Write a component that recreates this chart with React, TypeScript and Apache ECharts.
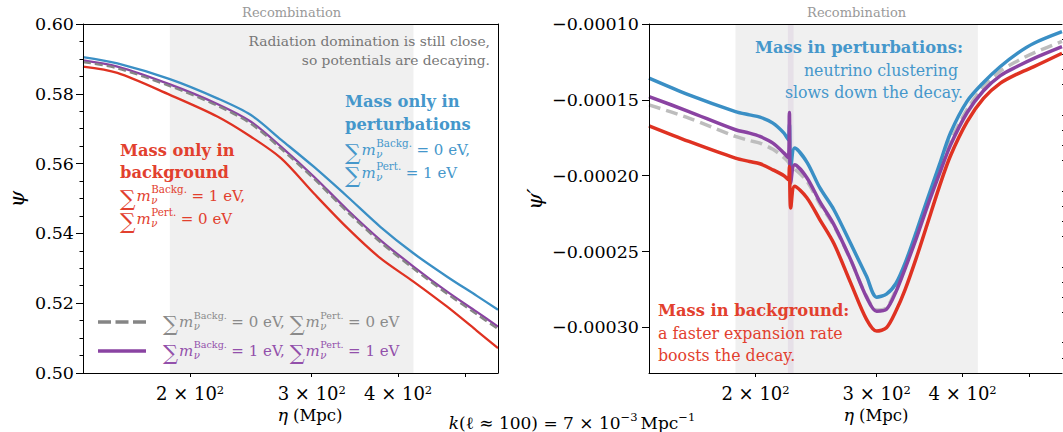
import React, { useEffect, useRef } from "react";
import * as echarts from "echarts";

// ---------------- data ----------------
// conformal time eta (Mpc), left panel: potential psi
const etaLeft = [140, 157, 187, 219, 245, 271, 302, 338, 377, 421, 471, 520, 558];
const psiNoMass = [0.5891, 0.5873, 0.5822, 0.5766, 0.5714, 0.5642, 0.5557, 0.5461, 0.5375, 0.5299, 0.5227, 0.5168, 0.5126];
const psiBothMass = [0.5896, 0.5878, 0.5827, 0.5771, 0.572, 0.5648, 0.5563, 0.5467, 0.5381, 0.5305, 0.5233, 0.5175, 0.5133];
const psiPertMass = [0.5905, 0.5887, 0.5842, 0.5787, 0.5739, 0.5668, 0.5591, 0.5505, 0.5419, 0.5343, 0.5276, 0.5221, 0.5181];
const psiBackgMass = [0.5878, 0.586, 0.5797, 0.5735, 0.5677, 0.5615, 0.5515, 0.5415, 0.5329, 0.5262, 0.519, 0.5121, 0.5071];

// right panel: psi' (derivative)
const etaRight = [140, 160, 187, 196, 203, 212, 220, 223.3, 224.0, 225.0, 228, 237.5, 248, 260, 275, 290, 300, 310, 320, 330, 343, 355, 370, 384, 406, 429, 454, 480, 508, 558];
const dpsiNoMass = [-1.533e-4, -1.62e-4, -1.741e-4, -1.768e-4, -1.785e-4, -1.826e-4, -1.88e-4, -1.91e-4, -1.925e-4, -1.935e-4, -1.955e-4, -2.035e-4, -2.185e-4, -2.33e-4, -2.555e-4, -2.795e-4, -2.885e-4, -2.87e-4, -2.75e-4, -2.595e-4, -2.385e-4, -2.19e-4, -1.965e-4, -1.775e-4, -1.565e-4, -1.415e-4, -1.31e-4, -1.245e-4, -1.19e-4, -1.115e-4];
const dpsiBothMass = [-1.478e-4, -1.577e-4, -1.697e-4, -1.719e-4, -1.741e-4, -1.785e-4, -1.851e-4, -1.882e-4, -1.584e-4, -2.048e-4, -1.928e-4, -2.013e-4, -2.171e-4, -2.322e-4, -2.553e-4, -2.8e-4, -2.893e-4, -2.88e-4, -2.765e-4, -2.612e-4, -2.406e-4, -2.21e-4, -1.99e-4, -1.8e-4, -1.585e-4, -1.44e-4, -1.34e-4, -1.28e-4, -1.226e-4, -1.149e-4];
const dpsiPertMass = [-1.357e-4, -1.467e-4, -1.577e-4, -1.599e-4, -1.614e-4, -1.653e-4, -1.719e-4, -1.763e-4, -1.66e-4, -1.95e-4, -1.818e-4, -1.91e-4, -2.079e-4, -2.224e-4, -2.447e-4, -2.663e-4, -2.8e-4, -2.78e-4, -2.71e-4, -2.576e-4, -2.363e-4, -2.163e-4, -1.93e-4, -1.72e-4, -1.51e-4, -1.385e-4, -1.28e-4, -1.195e-4, -1.127e-4, -1.051e-4];
const dpsiBackgMass = [-1.671e-4, -1.774e-4, -1.884e-4, -1.906e-4, -1.921e-4, -1.961e-4, -2.0e-4, -2.026e-4, -1.939e-4, -2.213e-4, -2.07e-4, -2.145e-4, -2.289e-4, -2.447e-4, -2.706e-4, -2.947e-4, -3.024e-4, -3.002e-4, -2.892e-4, -2.751e-4, -2.535e-4, -2.326e-4, -2.073e-4, -1.87e-4, -1.645e-4, -1.49e-4, -1.39e-4, -1.33e-4, -1.281e-4, -1.193e-4];

const etaRange = [140, 558];
const recombination = [187, 421];
const glitchBand = [222.9, 227.1];
const xTickValues = [200, 300, 400, 500];
const xLabelValues = [200, 300, 400];
const yLeftRange = [0.5, 0.6];
const yLeftStep = 0.02;
const yRightRange = [-3.3e-4, -1.0e-4];
const yRightTicks = [-3.0e-4, -2.5e-4, -2.0e-4, -1.5e-4, -1.0e-4];

// ---------------- styling ----------------
const FONT = '"DejaVu Serif", serif';
const C_BLUE = "#3a8fc5";
const C_RED = "#df3222";
const C_PURPLE = "#8a43a2";
const C_GRAY = "#858585";
const C_GRAY_R = "#bdbdbd";
const T_BLUE = "#4597cb";
const T_RED = "#e2402e";
const T_PURPLE = "#9350ab";
const T_GRAY = "#8a8a8a";

type Piece = { t?: string; s?: number; it?: boolean; b?: boolean; dy?: number; gap?: number; stack?: Piece[] };

let measureCtx: CanvasRenderingContext2D | null = null;
function fontOf(p: Piece) {
  return `${p.it ? "italic " : ""}${p.b ? "bold " : ""}${p.s}px ${FONT}`;
}
function measure(p: Piece) {
  if (!measureCtx) measureCtx = document.createElement("canvas").getContext("2d");
  measureCtx!.font = fontOf(p);
  return measureCtx!.measureText(p.t ?? "").width;
}
function mathLine(x: number, y: number, fill: string, pieces: Piece[], align = "left"): any[] {
  const widths = pieces.map((p) => (p.stack ? Math.max(...p.stack.map(measure)) : measure(p)) + (p.gap ?? 0));
  const total = widths.reduce((a, b) => a + b, 0);
  let cx = align === "right" ? x - total : align === "center" ? x - total / 2 : x;
  const out: any[] = [];
  pieces.forEach((p, i) => {
    for (const q of p.stack ?? [p]) {
      out.push({
        type: "text",
        x: cx,
        y: y + (q.dy ?? 0),
        silent: true,
        z: 100,
        style: { text: q.t, font: fontOf(q), fill, textAlign: "left", textVerticalAlign: "middle" },
      });
    }
    cx += widths[i];
  });
  return out;
}
// sum_m_nu^label = rhs ; big: size factor of the summation sign
function sumTerm(label: string, rhs: string, s = 15, big = 1.4, supF = 0.64): Piece[] {
  return [
    { t: "∑", s: s * big, dy: s * (big - 1) * 0.3, gap: 1 },
    { t: "m", s, it: true, gap: 0.5 },
    { stack: [{ t: label, s: s * supF, dy: -s * 0.44 }, { t: "ν", s: s * 0.68, it: true, dy: s * 0.3 }], gap: s * 0.3 },
    { t: "= " + rhs, s },
  ];
}
const noteTerm = (label: string, rhs: string) => sumTerm(label, rhs, 15, 1.45, 0.69);
const txt = (t: string, s: number): Piece[] => [{ t, s }];
const bold = (t: string, s = 16.3): Piece[] => [{ t, s, b: true }];

function line(name: string, xi: number, yi: number, xs: number[], ys: number[], color: string, width: number, z: number, dash?: number[]) {
  return {
    type: "line",
    name,
    xAxisIndex: xi,
    yAxisIndex: yi,
    data: xs.map((x, i) => [x, ys[i]]),
    showSymbol: false,
    symbol: "none",
    smooth: 0.3,
    silent: true,
    z,
    lineStyle: { color, width, type: dash ?? "solid", cap: "butt" },
  };
}

function bandSeries(xi: number, yi: number, withGlitch: boolean) {
  const data: any[] = [
    [
      {
        xAxis: recombination[0],
        itemStyle: { color: "#f0f0f0" },
        label: { show: true, position: "top", formatter: "Recombination", color: "#999", fontFamily: FONT, fontSize: 13, distance: 5 },
      },
      { xAxis: recombination[1] },
    ],
  ];
  if (withGlitch) {
    data.push([{ xAxis: glitchBand[0], itemStyle: { color: "rgba(138,69,160,0.09)" }, label: { show: false } }, { xAxis: glitchBand[1] }]);
  }
  return { type: "line", xAxisIndex: xi, yAxisIndex: yi, data: [], z: 1, silent: true, markArea: { silent: true, data } };
}

const xLabelStyle = {
  fontFamily: FONT,
  fontSize: 18,
  color: "#000",
  margin: 11,
  rich: { sup: { fontSize: 11.5, fontFamily: FONT, verticalAlign: "top", color: "#000" } },
};

function App() {
  const ref = useRef<HTMLDivElement>(null);
  useEffect(() => {
    const chart = echarts.init(ref.current!, undefined, { renderer: "svg" });
    const minorRight: number[] = [];
    for (let k = 10; k <= 33; k++) if (k % 5 !== 0) minorRight.push(-k * 1e-5);

    const xBottom = (grid: number) => ({
      type: "log",
      logBase: 10,
      gridIndex: grid,
      min: etaRange[0],
      max: etaRange[1],
      z: 10,
      axisLine: { show: true, onZero: false, lineStyle: { color: "#000", width: 1 } },
      axisTick: { show: true, customValues: xTickValues, length: 4, lineStyle: { color: "#000" } },
      axisLabel: { ...xLabelStyle, customValues: xLabelValues, formatter: (v: number) => `${Math.round(v / 100)} × 10{sup|2}` },
      splitLine: { show: false },
      minorTick: { show: false },
    });
    const xTop = (grid: number) => ({
      type: "log",
      gridIndex: grid,
      position: "top",
      min: etaRange[0],
      max: etaRange[1],
      z: 10,
      axisLine: { show: true, onZero: false, lineStyle: { color: "#000", width: 1 } },
      axisTick: { show: false },
      axisLabel: { show: false },
      splitLine: { show: false },
    });

    const graphic: any[] = [
      // left panel notes
      ...mathLine(490, 41, "#777", txt("Radiation domination is still close,", 13.8), "right"),
      ...mathLine(490, 60, "#777", txt("so potentials are decaying.", 13.8), "right"),
      ...mathLine(345, 101, T_BLUE, bold("Mass only in")),
      ...mathLine(345, 124, T_BLUE, bold("perturbations")),
      ...mathLine(345, 150, T_BLUE, noteTerm("Backg.", "0 eV,")),
      ...mathLine(345, 173, T_BLUE, noteTerm("Pert.", "1 eV")),
      ...mathLine(120, 150, T_RED, bold("Mass only in")),
      ...mathLine(120, 172, T_RED, bold("background")),
      ...mathLine(120, 196, T_RED, noteTerm("Backg.", "1 eV,")),
      ...mathLine(120, 219, T_RED, noteTerm("Pert.", "0 eV")),
      // legend
      { type: "line", z: 100, silent: true, shape: { x1: 98, y1: 322, x2: 146, y2: 322 }, style: { stroke: C_GRAY, lineWidth: 3.5, lineDash: [13, 4.5] } },
      { type: "line", z: 100, silent: true, shape: { x1: 98, y1: 351, x2: 146, y2: 351 }, style: { stroke: C_PURPLE, lineWidth: 3.5 } },
      ...mathLine(163, 322, T_GRAY, [...sumTerm("Backg.", "0 eV,"), { t: " ", s: 15 }, ...sumTerm("Pert.", "0 eV")]),
      ...mathLine(163, 351, T_PURPLE, [...sumTerm("Backg.", "1 eV,"), { t: " ", s: 15 }, ...sumTerm("Pert.", "1 eV")]),
      // right panel notes
      ...mathLine(963, 47, T_BLUE, bold("Mass in perturbations:"), "right"),
      ...mathLine(958, 70, T_BLUE, txt("neutrino clustering", 15.8), "right"),
      ...mathLine(963, 92, T_BLUE, txt("slows down the decay.", 15.8), "right"),
      ...mathLine(658, 310, T_RED, bold("Mass in background:")),
      ...mathLine(658, 333, T_RED, txt("a faster expansion rate", 15.8)),
      ...mathLine(658, 355, T_RED, txt("boosts the decay.", 15.8)),
      // axis titles
      ...mathLine(310, 415, "#000", [{ t: "η", s: 17.5, it: true, gap: 5 }, { t: "(Mpc)", s: 16.5 }], "center"),
      ...mathLine(876, 415, "#000", [{ t: "η", s: 17.5, it: true, gap: 5 }, { t: "(Mpc)", s: 16.5 }], "center"),
      { type: "text", x: 17, y: 199, rotation: Math.PI / 2, z: 100, silent: true, style: { text: "ψ", font: `italic 21px ${FONT}`, fill: "#000", textAlign: "center", textVerticalAlign: "middle" } },
      { type: "text", x: 535, y: 199, rotation: Math.PI / 2, z: 100, silent: true, style: { text: "ψ′", font: `italic 21px ${FONT}`, fill: "#000", textAlign: "center", textVerticalAlign: "middle" } },
      ...mathLine(572, 423, "#000", [
        { t: "k", s: 17, it: true },
        { t: "(", s: 17 },
        { t: "ℓ", s: 17 },
        { t: " ≈ 100) = 7 × 10", s: 17 },
        { t: "−3", s: 11.5, dy: -6, gap: 3 },
        { t: "Mpc", s: 17 },
        { t: "−1", s: 11.5, dy: -6 },
      ], "center"),
    ];

    chart.setOption({
      animation: false,
      backgroundColor: "#fff",
      grid: [
        { left: 83, top: 24, width: 415, height: 349, containLabel: false },
        { left: 649, top: 24, width: 413, height: 349, containLabel: false },
      ],
      xAxis: [xBottom(0), xTop(0), xBottom(1), xTop(1)],
      yAxis: [
        {
          type: "value",
          gridIndex: 0,
          min: yLeftRange[0],
          max: yLeftRange[1],
          interval: yLeftStep,
          z: 10,
          axisLine: { show: true, lineStyle: { color: "#000" } },
          axisTick: { show: true, length: 7, lineStyle: { color: "#000" } },
          minorTick: { show: true, splitNumber: 4, length: 3.5, lineStyle: { color: "#000" } },
          axisLabel: { fontFamily: FONT, fontSize: 17.5, color: "#000", margin: 9, formatter: (v: number) => v.toFixed(2) },
          splitLine: { show: false },
        },
        {
          type: "value",
          gridIndex: 0,
          position: "right",
          min: yLeftRange[0],
          max: yLeftRange[1],
          z: 10,
          axisLine: { show: true, lineStyle: { color: "#000" } },
          axisTick: { show: false },
          axisLabel: { show: false },
          splitLine: { show: false },
        },
        {
          type: "value",
          gridIndex: 1,
          min: yRightRange[0],
          max: yRightRange[1],
          z: 10,
          axisLine: { show: true, lineStyle: { color: "#000" } },
          axisTick: { show: true, customValues: yRightTicks, length: 7, lineStyle: { color: "#000" } },
          axisLabel: {
            customValues: yRightTicks,
            fontFamily: FONT,
            fontSize: 17.5,
            color: "#000",
            margin: 10,
            formatter: (v: number) => "−" + Math.abs(v).toFixed(5),
          },
          splitLine: { show: false },
        },
        {
          type: "value",
          gridIndex: 1,
          min: yRightRange[0],
          max: yRightRange[1],
          z: 10,
          axisLine: { show: false },
          axisTick: { show: true, customValues: minorRight, length: 3.5, lineStyle: { color: "#000" } },
          axisLabel: { show: false },
          splitLine: { show: false },
        },
      ],
      series: [
        bandSeries(0, 0, false),
        line("psiBackg", 0, 0, etaLeft, psiBackgMass, C_RED, 2.3, 3),
        line("psiPert", 0, 0, etaLeft, psiPertMass, C_BLUE, 2.3, 3),
        line("psiBoth", 0, 0, etaLeft, psiBothMass, C_PURPLE, 2.3, 4),
        line("psiNone", 0, 0, etaLeft, psiNoMass, C_GRAY, 2.3, 5, [8, 4]),
        bandSeries(2, 2, true),
        line("dpsiNone", 2, 2, etaRight, dpsiNoMass, C_GRAY_R, 3.5, 2, [12, 6]),
        line("dpsiPert", 2, 2, etaRight, dpsiPertMass, C_BLUE, 3.5, 3),
        line("dpsiBoth", 2, 2, etaRight, dpsiBothMass, C_PURPLE, 3.5, 4),
        line("dpsiBackg", 2, 2, etaRight, dpsiBackgMass, C_RED, 3.5, 5),
      ],
      graphic,
    });
    return () => chart.dispose();
  }, []);
  return <div ref={ref} style={{ position: "absolute", left: 0, top: 0, width: 1063, height: 432 }} />;
}

export default App;
